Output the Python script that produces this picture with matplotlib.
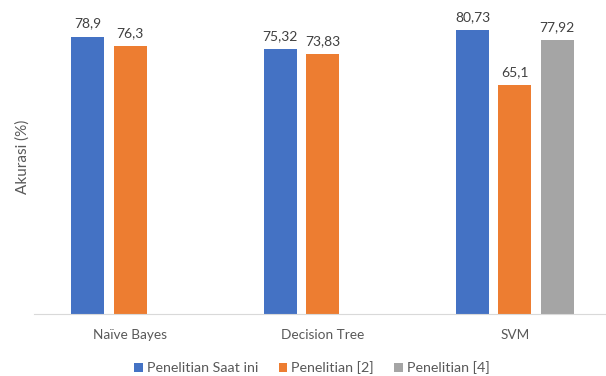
import matplotlib
matplotlib.use("Agg")
import matplotlib.pyplot as plt
import numpy as np

categories = ["Naïve Bayes", "Decision Tree", "SVM"]
series_names = ["Penelitian Saat ini", "Penelitian [2]", "Penelitian [4]"]
saat_ini = [78.9, 75.32, 80.73]
penelitian_2 = [76.3, 73.83, 65.1]
penelitian_4 = [np.nan, np.nan, 77.92]
colors = ["#4472C4", "#ED7D31", "#A5A5A5"]

plt.rcParams["font.family"] = ["Lato", "DejaVu Sans"]
text_color = "#595959"

fig = plt.figure(figsize=(6.06, 3.76), dpi=100)
ax = fig.add_axes([34 / 606, 62 / 376, 577 / 606, 313 / 376])

x = np.arange(len(categories))
slot = 0.22
width = 0.172
for i, (name, values) in enumerate(zip(series_names, [saat_ini, penelitian_2, penelitian_4])):
    offset = (i - 1) * slot
    bars = ax.bar(x + offset, values, width=width, color=colors[i], label=name)
    for bar, v in zip(bars, values):
        if np.isnan(v):
            continue
        ax.annotate(f"{v:g}".replace(".", ","), (bar.get_x() + bar.get_width() / 2, v),
                    xytext=(0, 5), textcoords="offset points", ha="center", va="bottom",
                    fontsize=10, color="#404040")

ax.set_xlim(-0.5, 2.5)
ax.set_ylim(0, 89)
ax.set_xticks(x, labels=categories)
ax.tick_params(axis="x", length=0, pad=11, labelsize=9.8, labelcolor=text_color)
ax.set_yticks([])
for side in ["top", "right", "left"]:
    ax.spines[side].set_visible(False)
ax.spines["bottom"].set_color("#D9D9D9")

fig.text(23 / 606, 1 - 157 / 376, "Akurasi (%)", rotation=90, ha="center", va="center",
         fontsize=11, color=text_color)

fig.legend(loc="center", bbox_to_anchor=(312 / 606, 1 - 368 / 376), ncol=3, frameon=False,
           fontsize=10.3, labelcolor=text_color, handlelength=0.6, handleheight=0.6,
           handletextpad=0.3, columnspacing=1.4, borderaxespad=0)

fig.savefig("out.png", dpi=100)
